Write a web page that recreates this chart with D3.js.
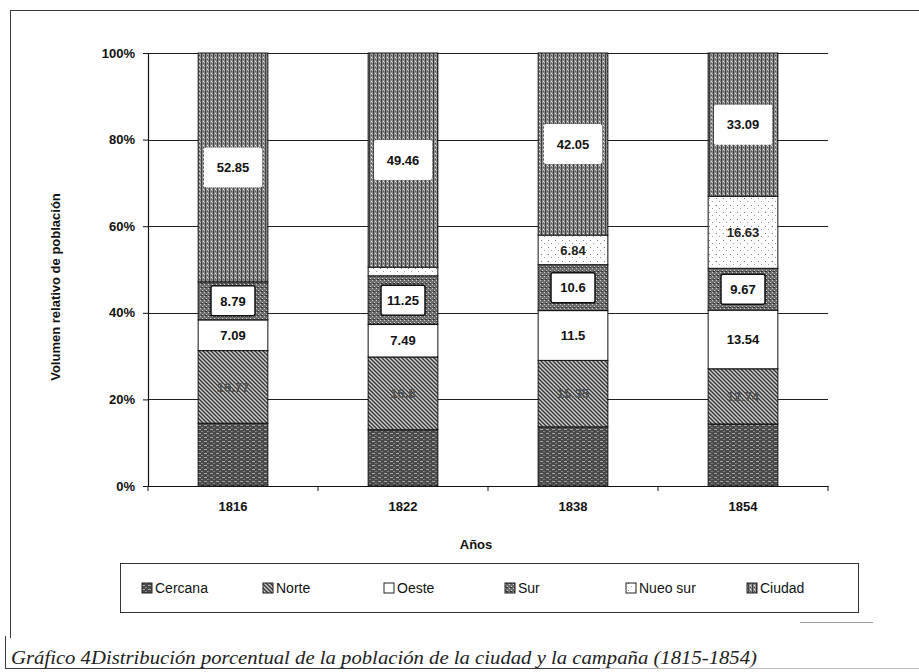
<!DOCTYPE html>
<html>
<head>
<meta charset="utf-8">
<script src="https://cdn.jsdelivr.net/npm/d3@7/dist/d3.min.js"></script>
<style>
  body { margin: 0; background: #fff; }
  svg { display: block; font-family: "Liberation Sans", Arial, sans-serif; }
</style>
</head>
<body>
<div id="chart"></div>
<script>
// data (percent of total population)
var years = ["1816", "1822", "1838", "1854"];
var seriesNames = ["Cercana", "Norte", "Oeste", "Sur", "Nueo sur", "Ciudad"];
var cercana = [14.5, 13.0, 13.66, 14.33];
var norte = [16.77, 16.8, 15.35, 12.74];
var oeste = [7.09, 7.49, 11.5, 13.54];
var sur = [8.79, 11.25, 10.6, 9.67];
var nueoSur = [0, 2.0, 6.84, 16.63];
var ciudad = [52.85, 49.46, 42.05, 33.09];
var yTicks = [0, 20, 40, 60, 80, 100];
var caption = "Gráfico 4Distribución porcentual de la población de la ciudad y la campaña (1815-1854)";

var table = years.map(function (yr, i) {
  return {
    year: yr,
    "Cercana": cercana[i],
    "Norte": norte[i],
    "Oeste": oeste[i],
    "Sur": sur[i],
    "Nueo sur": nueoSur[i],
    "Ciudad": ciudad[i]
  };
});

var plot = { left: 148, right: 828, top: 53, bottom: 486 };

var svg = d3.select("#chart")
  .append("svg")
  .attr("width", 919)
  .attr("height", 672);

// grey scan-like textures
var defs = svg.append("defs");

function pat(id, w, h, base) {
  var p = defs.append("pattern")
    .attr("id", id)
    .attr("patternUnits", "userSpaceOnUse")
    .attr("width", w)
    .attr("height", h);
  p.append("rect").attr("width", w).attr("height", h).attr("fill", base);
  return p;
}

var pCiudad = pat("p-ciudad", 4, 4, "#8c8c8c");
pCiudad.append("rect").attr("x", 1).attr("y", 0).attr("width", 1).attr("height", 4).attr("fill", "#3e3e3e");
pCiudad.append("rect").attr("x", 3).attr("y", 1).attr("width", 1).attr("height", 1).attr("fill", "#e8e8e8");
pCiudad.append("rect").attr("x", 3).attr("y", 3).attr("width", 1).attr("height", 1).attr("fill", "#555");
pCiudad.append("rect").attr("x", 0).attr("y", 2).attr("width", 1).attr("height", 1).attr("fill", "#bdbdbd");

var pSur = pat("p-sur", 4, 4, "#6c6c6c");
pSur.append("rect").attr("x", 0).attr("y", 0).attr("width", 1).attr("height", 1).attr("fill", "#d0d0d0");
pSur.append("rect").attr("x", 2).attr("y", 2).attr("width", 1).attr("height", 1).attr("fill", "#d0d0d0");
pSur.append("rect").attr("x", 1).attr("y", 3).attr("width", 2).attr("height", 1).attr("fill", "#333");

var pNorte = pat("p-norte", 4, 4, "#cfcfcf");
pNorte.append("path").attr("d", "M-1,-1L5,5M-1,3L1,5M3,-1L5,1")
  .attr("stroke", "#353535").attr("stroke-width", 1.4);

var pCercana = pat("p-cercana", 6, 4, "#4a4a4a");
pCercana.append("rect").attr("x", 0).attr("y", 1).attr("width", 3).attr("height", 1).attr("fill", "#a8a8a8");
pCercana.append("rect").attr("x", 3).attr("y", 3).attr("width", 2).attr("height", 1).attr("fill", "#858585");

var pNueo = pat("p-nueo", 7, 7, "#ffffff");
pNueo.append("rect").attr("x", 2).attr("y", 2).attr("width", 1).attr("height", 1).attr("fill", "#777");
pNueo.append("rect").attr("x", 5).attr("y", 5).attr("width", 1).attr("height", 1).attr("fill", "#999");

var fills = {
  "Cercana": "url(#p-cercana)",
  "Norte": "url(#p-norte)",
  "Oeste": "#ffffff",
  "Sur": "url(#p-sur)",
  "Nueo sur": "url(#p-nueo)",
  "Ciudad": "url(#p-ciudad)"
};

// outer frame of the scanned figure
var frame = svg.append("g").attr("stroke", "#3a3a3a").attr("stroke-width", 1).attr("fill", "none");
frame.append("line").attr("x1", 10).attr("y1", 10.5).attr("x2", 919).attr("y2", 10.5);
frame.append("line").attr("x1", 10.5).attr("y1", 10).attr("x2", 10.5).attr("y2", 638);
frame.append("line").attr("x1", 5.5).attr("y1", 636).attr("x2", 5.5).attr("y2", 668);
frame.append("line").attr("x1", 5).attr("y1", 668.5).attr("x2", 600).attr("y2", 668.5);
frame.append("line").attr("x1", 600).attr("y1", 668.5).attr("x2", 919).attr("y2", 668.5)
  .attr("stroke", "#bbb");
frame.append("line").attr("x1", 800).attr("y1", 622.5).attr("x2", 873).attr("y2", 622.5)
  .attr("stroke", "#999");

var x = d3.scaleBand()
  .domain(years)
  .range([plot.left, plot.right])
  .paddingInner(0.59)
  .paddingOuter(0.295);

var y = d3.scaleLinear()
  .domain([0, 1])
  .range([plot.bottom, plot.top]);

// gridlines
svg.append("g")
  .selectAll("line")
  .data(yTicks.filter(function (d) { return d > 0; }))
  .enter()
  .append("line")
  .attr("x1", plot.left)
  .attr("x2", plot.right)
  .attr("y1", function (d) { return Math.round(y(d / 100)) + 0.5; })
  .attr("y2", function (d) { return Math.round(y(d / 100)) + 0.5; })
  .attr("stroke", "#1e1e1e")
  .attr("stroke-width", 1);

var stack = d3.stack().keys(seriesNames).offset(d3.stackOffsetExpand);
var layers = stack(table);

var layerG = svg.append("g")
  .selectAll("g")
  .data(layers)
  .enter()
  .append("g")
  .attr("fill", function (d) { return fills[d.key]; });

layerG.selectAll("rect")
  .data(function (d) { return d; })
  .enter()
  .append("rect")
  .attr("x", function (d) { return x(d.data.year); })
  .attr("width", x.bandwidth())
  .attr("y", function (d) { return y(d[1]); })
  .attr("height", function (d) { return y(d[0]) - y(d[1]); })
  .attr("stroke", "#111")
  .attr("stroke-width", 1);

// data labels
var boxStyle = {
  "Ciudad": { w: 58, h: 40, stroke: "none", fill: "#fff", text: "#111" },
  "Sur": { w: 44, h: 30, stroke: "#111", fill: "#fff", text: "#111" },
  "Oeste": { w: 0, h: 0, stroke: "none", fill: "none", text: "#111" },
  "Nueo sur": { w: 0, h: 0, stroke: "none", fill: "none", text: "#222" },
  "Norte": { w: 0, h: 0, stroke: "none", fill: "none", text: "#505050" }
};

layers.forEach(function (layer) {
  var st = boxStyle[layer.key];
  if (!st) return;
  layer.forEach(function (d) {
    var v = d.data[layer.key];
    if (v < 3) return;
    var cx = x(d.data.year) + x.bandwidth() / 2;
    var cy = (y(d[0]) + y(d[1])) / 2;
    var g = svg.append("g").attr("class", "label");
    if (st.w > 0) {
      g.append("rect")
        .attr("x", cx - st.w / 2)
        .attr("y", cy - st.h / 2)
        .attr("width", st.w)
        .attr("height", st.h)
        .attr("rx", 2)
        .attr("fill", st.fill)
        .attr("stroke", st.stroke)
        .attr("stroke-width", 1.5);
    }
    g.append("text")
      .attr("x", cx)
      .attr("y", cy)
      .attr("dy", "0.36em")
      .attr("text-anchor", "middle")
      .style("font-size", "13px")
      .style("font-weight", "bold")
      .attr("fill", st.text)
      .text(String(v));
  });
});

// y axis
var yAxis = svg.append("g")
  .attr("transform", "translate(" + plot.left + ",0)")
  .call(d3.axisLeft(y)
    .tickValues(yTicks.map(function (d) { return d / 100; }))
    .tickFormat(d3.format(".0%"))
    .tickSize(5)
    .tickPadding(8));
yAxis.select(".domain").attr("stroke", "#111").attr("stroke-width", 1.2);
yAxis.selectAll(".tick line").attr("stroke", "#111");
yAxis.selectAll("text")
  .style("font-size", "13px")
  .style("font-weight", "bold")
  .attr("fill", "#111");

// x axis
var xAxis = svg.append("g")
  .attr("transform", "translate(0," + plot.bottom + ")")
  .call(d3.axisBottom(x).tickSize(0).tickPadding(16));
xAxis.select(".domain").attr("stroke", "#111").attr("stroke-width", 1.2);
xAxis.selectAll("text")
  .style("font-size", "13px")
  .style("font-weight", "bold")
  .attr("fill", "#111");
xAxis.selectAll(".bound")
  .data(d3.range(years.length + 1))
  .enter()
  .append("line")
  .attr("class", "bound")
  .attr("x1", function (k) { return plot.left + k * x.step(); })
  .attr("x2", function (k) { return plot.left + k * x.step(); })
  .attr("y1", 0)
  .attr("y2", 5)
  .attr("stroke", "#111");

// axis titles
svg.append("text")
  .attr("transform", "translate(60,287) rotate(-90)")
  .attr("text-anchor", "middle")
  .style("font-size", "13px")
  .style("font-weight", "bold")
  .attr("fill", "#111")
  .text("Volumen relativo de población");

svg.append("text")
  .attr("x", (plot.left + plot.right) / 2 - 12)
  .attr("y", 549)
  .attr("text-anchor", "middle")
  .style("font-size", "13px")
  .style("font-weight", "bold")
  .attr("fill", "#111")
  .text("Años");

// legend
var legend = svg.append("g");
legend.append("rect")
  .attr("x", 120.5)
  .attr("y", 563.5)
  .attr("width", 738)
  .attr("height", 49)
  .attr("fill", "none")
  .attr("stroke", "#333");

var item = legend.selectAll(".item")
  .data(seriesNames)
  .enter()
  .append("g")
  .attr("class", "item")
  .attr("transform", function (d, i) { return "translate(" + (142 + i * 121) + ",588)"; });

item.append("rect")
  .attr("x", 0)
  .attr("y", -5)
  .attr("width", 10)
  .attr("height", 10)
  .attr("fill", function (d) { return fills[d]; })
  .attr("stroke", "#222");

item.append("text")
  .attr("x", 13)
  .attr("y", 0)
  .attr("dy", "0.36em")
  .style("font-size", "14px")
  .attr("fill", "#111")
  .text(function (d) { return d; });

// caption
svg.append("text")
  .attr("x", 11)
  .attr("y", 664)
  .attr("textLength", 746)
  .attr("lengthAdjust", "spacingAndGlyphs")
  .style("font-family", "'Liberation Serif', 'DejaVu Serif', serif")
  .style("font-style", "italic")
  .style("font-size", "18px")
  .attr("fill", "#222")
  .text(caption);
</script>
</body>
</html>
